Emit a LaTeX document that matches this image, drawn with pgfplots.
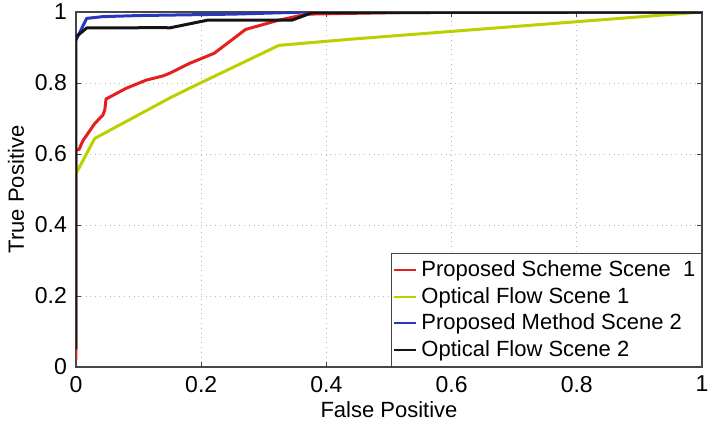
\documentclass[border=0pt]{standalone}
\usepackage{fontspec}
\setmainfont{Liberation Sans}
\usepackage{pgfplots}
\pgfplotsset{compat=1.18}

\definecolor{cRed}{RGB}{228,32,30}
\definecolor{cYel}{RGB}{188,208,0}
\definecolor{cBlu}{RGB}{40,56,190}
\definecolor{cBlk}{RGB}{20,20,20}
\definecolor{cAx}{RGB}{70,70,70}

\begin{document}
\begin{tikzpicture}
\begin{axis}[
  scale only axis,
  width=313pt, height=177.5pt,
  xmin=0, xmax=1, ymin=0, ymax=1,
  xtick={0,0.2,0.4,0.6,0.8,1},
  ytick={0,0.2,0.4,0.6,0.8,1},
  /pgf/number format/assume math mode=true,
  ticklabel style={font=\fontsize{11.5}{13}\selectfont},
  xticklabel style={yshift=-1pt},
  yticklabel style={xshift=-1pt},
  tick align=inside,
  major tick length=2.5pt,
  tick style={cAx, line width=0.5pt},
  axis line style={cAx, line width=0.8pt},
  grid=major,
  major grid style={gray!55, dotted, line width=0.5pt},
  xlabel={False Positive},
  ylabel={True Positive},
  label style={font=\fontsize{11}{13}\selectfont},
  xlabel style={at={(axis description cs:0.5,0)}, anchor=center, yshift=-21.5pt},
  ylabel style={at={(axis description cs:-0.096,0.5)}, anchor=center},
  legend style={at={(1,0)}, anchor=south east,
    font=\fontsize{11}{13}\selectfont,
    draw=cAx, line width=0.6pt, fill=white,
    inner xsep=1pt, inner ysep=1.5pt, row sep=-0.2pt,
    cells={anchor=west}},
  legend image code/.code={\draw[#1, line width=1pt] (0pt,0pt) -- (11pt,0pt);},
  every axis plot/.append style={line width=1.5pt, line join=round},
]
% Proposed Scheme, scene 1
\addplot[cRed] coordinates {
  (0,0.02) (0,0.611) (0.005,0.613) (0.009,0.63) (0.012,0.64)
  (0.03,0.686) (0.043,0.71) (0.046,0.724) (0.048,0.755)
  (0.08,0.785) (0.112,0.808) (0.139,0.82) (0.149,0.827)
  (0.181,0.855) (0.221,0.884) (0.271,0.951) (0.324,0.977)
  (0.369,0.994) (0.56,1.0) (1,1.0)
};
% Optical flow, scene 1
\addplot[cYel] coordinates {
  (0,0.545) (0.03,0.644) (0.149,0.757) (0.181,0.785)
  (0.324,0.906) (0.436,0.923) (1,1.0)
};
% Proposed method, scene 2
\addplot[cBlu] coordinates {
  (0,0.921) (0.017,0.982) (0.043,0.987) (0.1,0.99)
  (0.25,0.994) (0.37,1.0) (1,1.0)
};
% Optical flow, scene 2
\addplot[cBlk] coordinates {
  (0,0.05) (0,0.93) (0.017,0.955) (0.144,0.956) (0.149,0.955)
  (0.21,0.977) (0.345,0.977) (0.377,0.998) (1,1.0)
};
\legend{Proposed Scheme Scene\ \ 1, Optical Flow Scene 1,
        Proposed Method Scene 2, Optical Flow Scene 2}
\end{axis}
\pgfresetboundingbox
\path[use as bounding box] ([shift={(-38pt,-31.5pt)}]current axis.south west)
  rectangle ([shift={(3pt,6pt)}]current axis.north east);
\end{tikzpicture}
\end{document}
